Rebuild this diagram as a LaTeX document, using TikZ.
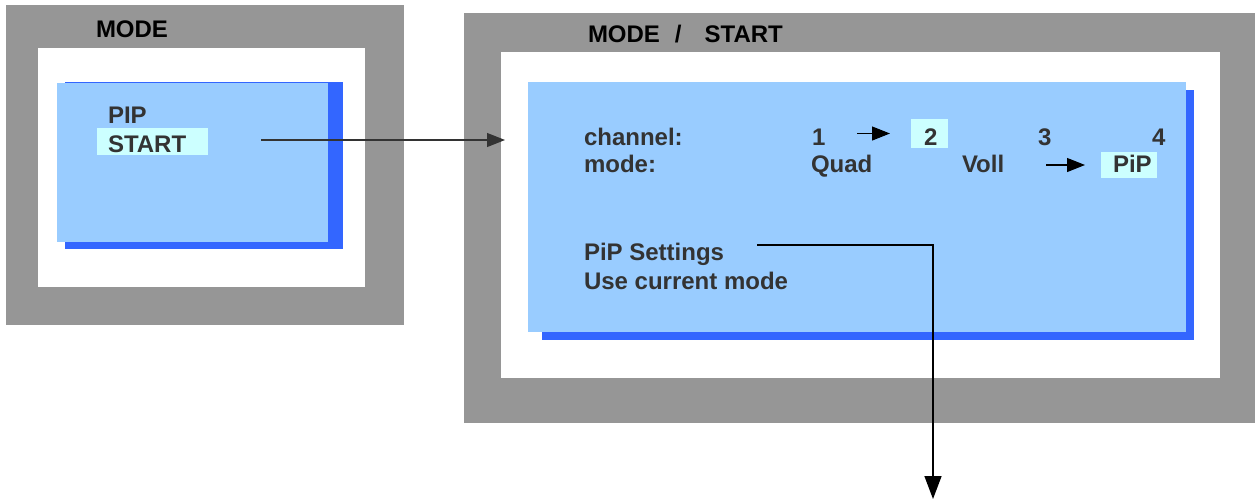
\documentclass[tikz,border=0pt]{standalone}
\usepackage{fontspec}
\setmainfont{Liberation Sans}
\usetikzlibrary{positioning,arrows.meta}
\definecolor{framegrey}{HTML}{969696}
\definecolor{panelblue}{HTML}{99CCFF}
\definecolor{shadowblue}{HTML}{3366FF}
\definecolor{hilite}{HTML}{CCFFFF}
\definecolor{ink}{HTML}{333333}

\begin{document}
\begin{tikzpicture}[
  x=0.02cm, y=-0.02cm,
  font=\fontsize{13.66}{16}\selectfont\bfseries,
  rect/.style={anchor=north west, inner sep=0pt, outer sep=0pt, draw=none},
  frm/.style={rect, fill=framegrey},
  win/.style={rect, fill=white},
  shd/.style={rect, fill=shadowblue},
  pnl/.style={rect, fill=panelblue},
  hl/.style={rect, fill=hilite},
  txt/.style={anchor=base west, inner sep=0pt, outer sep=0pt, text=ink},
  ttl/.style={txt, text=black},
  flow/.style={-{Triangle[length=0.36cm,width=0.28cm]}, line width=0.6pt, draw=black},
  bigflow/.style={-{Triangle[length=0.46cm,width=0.34cm]}, line width=0.85pt, draw=black},
]
\useasboundingbox (0,0) rectangle (1255,501);

% ---------- MODE screen ----------
\node[frm, minimum width=7.96cm, minimum height=6.4cm]  (MF) at (6,5) {};
\node[win, minimum width=6.54cm, minimum height=4.78cm] (MW) at (38,48) {};
\node[shd, minimum width=5.56cm, minimum height=3.34cm] (MS) at (65,82) {};
\node[pnl, minimum width=5.42cm, minimum height=3.18cm] (MP) at (57,83) {};
\node[ttl] (MT) at (96,37) {MODE};
\node[txt] (MPIP) at (108,123) {PIP};
\node[hl, minimum width=2.22cm, minimum height=0.54cm] (MSH) at (97,128) {};
\node[txt] (MSTART) at (108,152) {START};

% ---------- MODE / START screen ----------
\node[frm, minimum width=15.82cm, minimum height=8.2cm]  (SF) at (464,13) {};
\node[win, minimum width=14.38cm, minimum height=6.52cm] (SW) at (501,52) {};
\node[shd, minimum width=13.04cm, minimum height=5.0cm]  (SS) at (542,90) {};
\node[pnl, minimum width=13.16cm, minimum height=5.0cm]  (SP) at (528,82) {};
\node[ttl] (ST) at (588,42) {MODE\hspace{0.3cm}/\hspace{0.46cm}START};

% channel / mode rows
\node[txt] (CHL) at (584,145) {channel:};
\node[txt] (MDL) at (584,172) {mode:};
\node[txt] (C1) at (812,145) {1};
\node[hl, minimum width=0.74cm, minimum height=0.58cm] (C2H) at (911,119) {};
\node[txt] (C2) at (924,145) {2};
\node[txt] (C3) at (1038,145) {3};
\node[txt] (C4) at (1152,145) {4};
\node[txt] (QD) at (811,172) {Quad};
\node[txt] (VL) at (962,172) {Voll};
\node[hl, minimum width=1.12cm, minimum height=0.52cm] (PPH) at (1101,152) {};
\node[txt] (PP) at (1113,172) {PiP};

% menu entries
\node[txt] (PS) at (584,260) {PiP Settings};
\node[txt] (UC) at (584,289) {Use current mode};

% ---------- edges ----------
\coordinate (go) at (261,140);
\coordinate (in) at (505,140);
\draw[flow, draw=ink] (go) -- (in);

\draw[flow, shorten <=0.64cm, shorten >=0.42cm] (C2H.west -| C1.east) -- (C2H.west);
\draw[flow, shorten <=0.84cm, shorten >=0.32cm] (PPH.west -| VL.east) -- (PPH.west);

\coordinate (ps) at (757,245);
\coordinate (out) at (933,499);
\draw[bigflow] (ps) -| (out);

\end{tikzpicture}
\end{document}
